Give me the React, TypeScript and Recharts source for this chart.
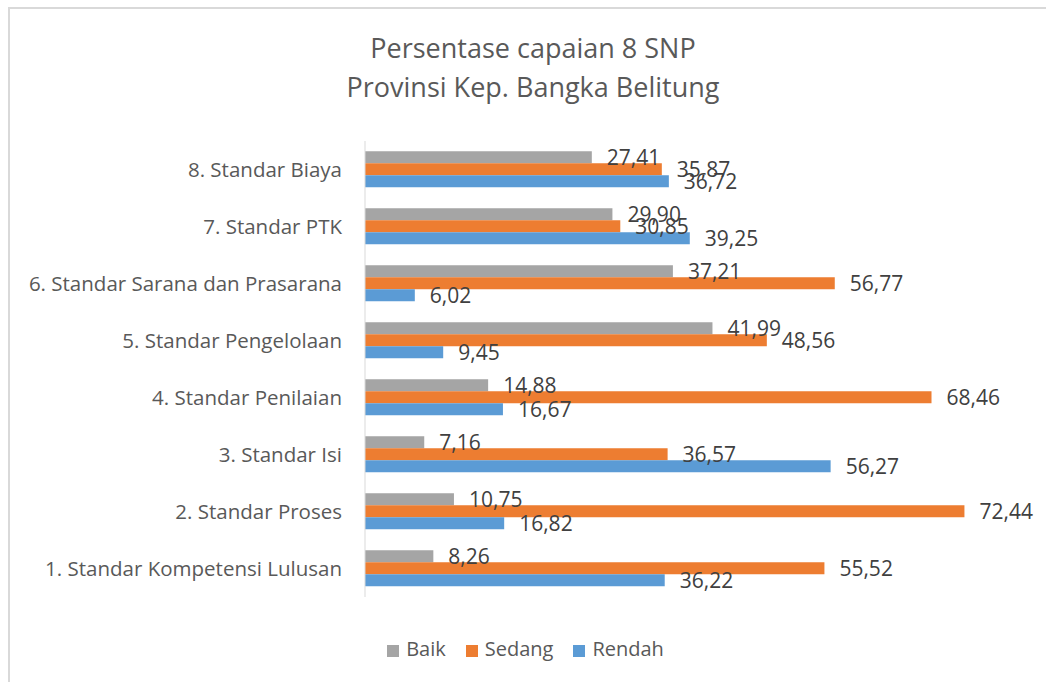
import { BarChart, Bar, XAxis, YAxis, Legend, LabelList } from 'recharts'

const categories = [
  '1. Standar Kompetensi Lulusan',
  '2. Standar Proses',
  '3. Standar Isi',
  '4. Standar Penilaian',
  '5. Standar Pengelolaan',
  '6. Standar Sarana dan Prasarana',
  '7. Standar PTK',
  '8. Standar Biaya',
]
const seriesNames = ['Baik', 'Sedang', 'Rendah']
const baik = [8.26, 10.75, 7.16, 14.88, 41.99, 37.21, 29.9, 27.41]
const sedang = [55.52, 72.44, 36.57, 68.46, 48.56, 56.77, 30.85, 35.87]
const rendah = [36.22, 16.82, 56.27, 16.67, 9.45, 6.02, 39.25, 36.72]

const data = categories.map((name, i) => ({
  name,
  Baik: baik[i],
  Sedang: sedang[i],
  Rendah: rendah[i],
}))

const FONT = "'Open Sans', sans-serif"
const fmt = (v: any) => Number(v).toFixed(2).replace('.', ',')

const labelStyle = { fontSize: 21, fill: '#404040', fontFamily: FONT }

export default function App() {
  return (
    <div style={{ position: 'relative', width: 1046, height: 682, background: '#fff', fontFamily: FONT }}>
      <style>{'body{margin:0}'}</style>
      <div
        style={{
          position: 'absolute',
          left: 8,
          top: 7,
          right: 0,
          bottom: 0,
          borderLeft: '2px solid #D9D9D9',
          borderTop: '2px solid #D9D9D9',
        }}
      />
      <div
        style={{
          position: 'absolute',
          top: 28,
          left: 0,
          width: 1066,
          textAlign: 'center',
          color: '#595959',
          fontSize: 27,
          lineHeight: '39px',
        }}
      >
        Persentase capaian 8 SNP
        <br />
        Provinsi Kep. Bangka Belitung
      </div>
      <BarChart
        width={1046}
        height={682}
        data={data}
        layout="vertical"
        margin={{ top: 141, right: 19, bottom: 58, left: 0 }}
        barCategoryGap="18%"
        barGap={0}
        style={{ position: 'absolute', top: 0, left: 0 }}
      >
        <XAxis type="number" domain={[0, 80]} hide />
        <YAxis
          type="category"
          dataKey="name"
          reversed
          width={365}
          tickSize={0}
          tickMargin={23}
          axisLine={{ stroke: '#D9D9D9' }}
          tickLine={false}
          tick={{ fontSize: 20.5, fill: '#595959', fontFamily: FONT }}
        />
        <Legend
          verticalAlign="bottom"
          iconType="square"
          iconSize={12}
          itemSorter={(item: any) => seriesNames.indexOf(item.value)}
          wrapperStyle={{ bottom: 20, left: 0, width: 1071, fontSize: 20, fontFamily: FONT }}
          formatter={(value) => <span style={{ color: '#595959', marginLeft: 3, marginRight: 10 }}>{value}</span>}
        />
        <Bar dataKey="Baik" fill="#A5A5A5" isAnimationActive={false}>
          <LabelList dataKey="Baik" position="right" offset={15} formatter={fmt} style={labelStyle} />
        </Bar>
        <Bar dataKey="Sedang" fill="#ED7D31" isAnimationActive={false}>
          <LabelList dataKey="Sedang" position="right" offset={15} formatter={fmt} style={labelStyle} />
        </Bar>
        <Bar dataKey="Rendah" fill="#5B9BD5" isAnimationActive={false}>
          <LabelList dataKey="Rendah" position="right" offset={15} formatter={fmt} style={labelStyle} />
        </Bar>
      </BarChart>
    </div>
  )
}
